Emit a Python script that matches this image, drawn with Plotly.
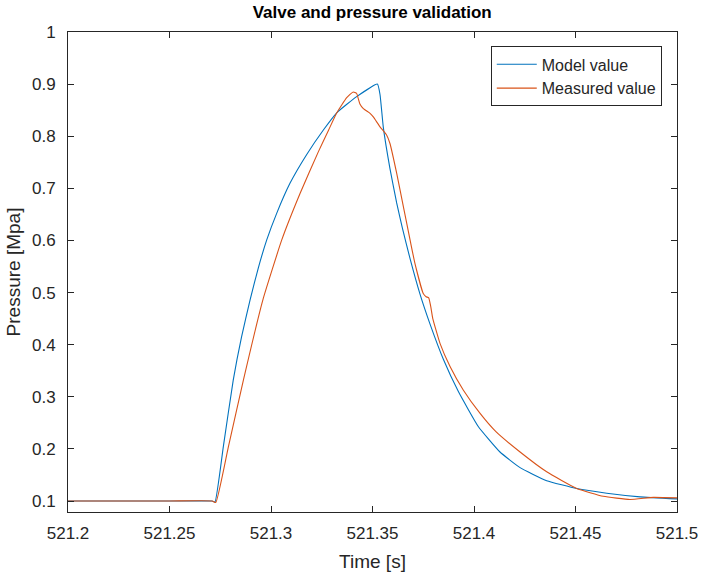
import plotly.graph_objects as go

# Model value (blue)
model_t = [521.2, 521.25, 521.271, 521.2724, 521.2765, 521.2814, 521.2855, 521.2897, 521.2938,
           521.2979, 521.3028, 521.3094, 521.3176, 521.3258, 521.3324, 521.3422, 521.3524,
           521.3537, 521.3553, 521.3586, 521.3619, 521.3647, 521.3685, 521.3734, 521.3783,
           521.3849, 521.3923, 521.4021, 521.4128, 521.4227, 521.4358, 521.4506, 521.4654,
           521.4818, 521.5]
model_p = [0.1, 0.1, 0.1, 0.098, 0.204, 0.332, 0.415, 0.486, 0.548,
           0.601, 0.652, 0.710, 0.765, 0.812, 0.845, 0.876, 0.900,
           0.880, 0.818, 0.738, 0.672, 0.624, 0.565, 0.497, 0.440,
           0.372, 0.310, 0.243, 0.194, 0.164, 0.139, 0.124, 0.115,
           0.108, 0.104]

# Measured value (orange)
meas_t = [521.2, 521.25, 521.271, 521.2728, 521.279, 521.2864, 521.296, 521.3053, 521.3143,
          521.3233, 521.3284, 521.3324, 521.3373, 521.3405, 521.3422, 521.343, 521.3438,
          521.3455, 521.3488, 521.3504, 521.3537, 521.357, 521.3586, 521.3619, 521.3652,
          521.3685, 521.3709, 521.375, 521.3764, 521.3777, 521.3787, 521.3797, 521.3833,
          521.3882, 521.3947, 521.403, 521.4108, 521.4227, 521.4358, 521.4506, 521.4637,
          521.4768, 521.4883, 521.5]
meas_p = [0.1, 0.1, 0.1, 0.097, 0.204, 0.332, 0.486, 0.601, 0.690,
          0.770, 0.812, 0.845, 0.874, 0.885, 0.882, 0.872, 0.862,
          0.853, 0.844, 0.837, 0.818, 0.802, 0.786, 0.729, 0.665,
          0.601, 0.556, 0.498, 0.492, 0.490, 0.473, 0.450, 0.402,
          0.358, 0.313, 0.268, 0.233, 0.194, 0.156, 0.124, 0.109,
          0.103, 0.107, 0.106]

x_ticks = [521.2, 521.25, 521.3, 521.35, 521.4, 521.45, 521.5]
x_tick_labels = ["521.2", "521.25", "521.3", "521.35", "521.4", "521.45", "521.5"]
y_ticks = [0.1, 0.2, 0.3, 0.4, 0.5, 0.6, 0.7, 0.8, 0.9, 1]
y_tick_labels = ["0.1", "0.2", "0.3", "0.4", "0.5", "0.6", "0.7", "0.8", "0.9", "1"]

FONT = "Liberation Sans, Arial, Helvetica, sans-serif"
AX = "#262626"

fig = go.Figure()
fig.add_trace(go.Scatter(x=model_t, y=model_p, mode="lines", name="Model value",
                         line=dict(color="#0072BD", width=1.1, shape="spline", smoothing=0.4)))
fig.add_trace(go.Scatter(x=meas_t, y=meas_p, mode="lines", name="Measured value",
                         line=dict(color="#D95319", width=1.1, shape="spline", smoothing=0.4)))

fig.update_layout(
    width=701, height=573,
    margin=dict(l=68, r=24, t=32, b=61),
    paper_bgcolor="white", plot_bgcolor="white",
    font=dict(family=FONT, size=17, color=AX),
    title=dict(text="<b>Valve and pressure validation</b>", x=0.531, xanchor="center",
               y=1 - 12 / 573, yanchor="middle", yref="container",
               font=dict(family=FONT, size=17, color="black")),
    showlegend=True,
    legend=dict(x=0.975, y=0.97, xanchor="right", yanchor="top",
                bordercolor=AX, borderwidth=1, bgcolor="white",
                font=dict(family=FONT, size=16, color=AX),
                tracegroupgap=0, itemwidth=40),
)
fig.update_xaxes(range=[521.2, 521.5], tickvals=x_ticks, ticktext=x_tick_labels,
                 showgrid=False, zeroline=False, showline=True, linecolor=AX, linewidth=1,
                 mirror="ticks", ticks="inside", ticklen=6, tickcolor=AX,
                 automargin=False, ticklabelstandoff=6,
                 title=dict(text="Time [s]", font=dict(size=19), standoff=12))
fig.update_yaxes(range=[0.0789, 1.0], tickvals=y_ticks, ticktext=y_tick_labels,
                 showgrid=False, zeroline=False, showline=True, linecolor=AX, linewidth=1,
                 mirror="ticks", ticks="inside", ticklen=6, tickcolor=AX,
                 automargin=False, ticklabelstandoff=8,
                 title=dict(text="Pressure [Mpa]", font=dict(size=19), standoff=6))

fig.write_html("out.html")
